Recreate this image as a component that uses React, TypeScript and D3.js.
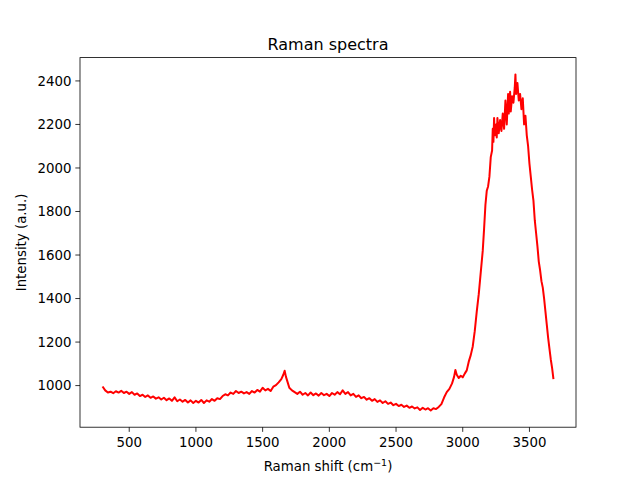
import React from "react";
import * as d3 from "d3";

const shift: number[] = [
  300, 320, 340, 360, 380, 400, 420, 440, 460, 480, 500, 520, 540, 560, 580, 600, 620, 640, 660, 680,
  700, 720, 740, 760, 780, 800, 820, 840, 860, 880, 900, 920, 940, 960, 980, 1000, 1020, 1040, 1060, 1080,
  1100, 1120, 1140, 1160, 1180, 1200, 1220, 1240, 1260, 1280, 1300, 1320, 1340, 1360, 1380, 1400, 1420, 1440, 1460, 1480,
  1500, 1520, 1540, 1560, 1580, 1600, 1620, 1640, 1655, 1665, 1675, 1690, 1700, 1720, 1740, 1760, 1780, 1800, 1820, 1840,
  1860, 1880, 1900, 1920, 1940, 1960, 1980, 2000, 2020, 2040, 2060, 2080, 2100, 2120, 2140, 2160, 2180, 2200, 2220, 2240,
  2260, 2280, 2300, 2320, 2340, 2360, 2380, 2400, 2420, 2440, 2460, 2480, 2500, 2520, 2540, 2560, 2580, 2600, 2620, 2640,
  2660, 2680, 2700, 2720, 2740, 2760, 2780, 2800, 2820, 2840, 2860, 2880, 2900, 2920, 2935, 2945, 2955, 2970, 2985, 3000,
  3015, 3030, 3045, 3060, 3075, 3090, 3105, 3120, 3135, 3150, 3160, 3170, 3180, 3190, 3200, 3210, 3220, 3225, 3230, 3235,
  3240, 3250, 3255, 3260, 3270, 3280, 3290, 3300, 3310, 3320, 3330, 3340, 3345, 3355, 3360, 3370, 3380, 3390, 3395, 3400,
  3410, 3420, 3430, 3440, 3450, 3460, 3470, 3480, 3490, 3500, 3510, 3520, 3530, 3540, 3550, 3560, 3570, 3580, 3590, 3600,
  3610, 3620, 3630, 3640, 3650, 3660, 3670, 3680,
];

const intensity: number[] = [
  996, 978, 968, 972, 965, 974, 968, 976, 966, 972, 962, 970, 958, 964, 952, 958, 948, 955, 944, 950,
  940, 946, 936, 944, 933, 941, 930, 946, 928, 936, 926, 934, 922, 932, 920, 930, 922, 934, 920, 932,
  926, 938, 930, 942, 938, 952, 960, 955, 968, 962, 975, 966, 972, 964, 970, 962, 975, 968, 980, 972,
  990, 978, 985, 975, 995, 1002, 1015, 1030, 1050, 1068, 1040, 1010, 990, 978, 970, 962, 972, 958, 966, 955,
  968, 956, 964, 954, 966, 956, 962, 952, 966, 958, 970, 960, 978, 962, 970, 955, 962, 948, 955, 942,
  948, 935, 942, 930, 938, 925, 932, 920, 928, 916, 922, 910, 916, 906, 912, 902, 908, 898, 904, 895,
  900, 888, 898, 890, 896, 886, 896, 892, 902, 915, 945, 970, 985, 1010, 1040, 1072, 1050, 1035, 1045, 1038,
  1055, 1070, 1110, 1140, 1180, 1250, 1340, 1420, 1520, 1620, 1720, 1830, 1895, 1915, 1960, 2050, 2080, 2180, 2120, 2230,
  2150, 2200, 2140, 2230, 2160, 2220, 2170, 2250, 2180, 2310, 2200, 2340, 2250, 2350, 2260, 2330, 2300, 2370, 2430, 2340,
  2390, 2310, 2340, 2270, 2320, 2200, 2240, 2150, 2100, 2020, 1960, 1900, 1850, 1760, 1700, 1640, 1570, 1530, 1480, 1450,
  1400, 1340, 1280, 1220, 1170, 1120, 1080, 1030,
];

const xTicks: number[] = [500, 1000, 1500, 2000, 2500, 3000, 3500];
const yTicks: number[] = [1000, 1200, 1400, 1600, 1800, 2000, 2200, 2400];

export default function App() {
  const W = 640, H = 480;
  const L = 80, R = 576, T = 57.6, B = 427.2;
  const xmin = d3.min(shift)!, xmax = d3.max(shift)!;
  const ymin = d3.min(intensity)!, ymax = d3.max(intensity)!;
  const xm = (xmax - xmin) * 0.05, ym = (ymax - ymin) * 0.05;
  const x = d3.scaleLinear().domain([xmin - xm, xmax + xm]).range([L, R]);
  const y = d3.scaleLinear().domain([ymin - ym, ymax + ym]).range([B, T]);
  const pts = shift.map((s, i) => [s, intensity[i]] as [number, number]);
  const line = d3.line<[number, number]>().x(d => x(d[0])).y(d => y(d[1]));
  const font = "DejaVu Sans, sans-serif";
  return (
    <svg width={W} height={H} style={{ position: "absolute", left: 0, top: 0, background: "#fff" }} fontFamily={font}>
      <rect x={0} y={0} width={W} height={H} fill="#fff" />
      <path d={line(pts)!} fill="none" stroke="#ff0000" strokeWidth={2} strokeLinejoin="round" />
      <rect x={L} y={T} width={R - L} height={B - T} fill="none" stroke="#000" strokeWidth={0.8} />
      {xTicks.map(t => (
        <g key={"x" + t}>
          <line x1={x(t)} x2={x(t)} y1={B} y2={B + 4.67} stroke="#000" strokeWidth={0.8} />
          <text x={x(t)} y={B + 19.5} textAnchor="middle" fontSize={13.33} fill="#000">{t}</text>
        </g>
      ))}
      {yTicks.map(t => (
        <g key={"y" + t}>
          <line x1={L - 4.67} x2={L} y1={y(t)} y2={y(t)} stroke="#000" strokeWidth={0.8} />
          <text x={L - 8.5} y={y(t)} dy="0.36em" textAnchor="end" fontSize={13.33} fill="#000">{t}</text>
        </g>
      ))}
      <text x={(L + R) / 2} y={49.5} textAnchor="middle" fontSize={16} fill="#000">Raman spectra</text>
      <text x={(L + R) / 2} y={471} textAnchor="middle" fontSize={13.33} fill="#000">
        Raman shift (cm<tspan dy={-5} fontSize={9.5}>−1</tspan><tspan dy={5}>)</tspan>
      </text>
      <text transform={`translate(26,${(T + B) / 2}) rotate(-90)`} textAnchor="middle" fontSize={13.33} fill="#000">Intensity (a.u.)</text>
    </svg>
  );
}
